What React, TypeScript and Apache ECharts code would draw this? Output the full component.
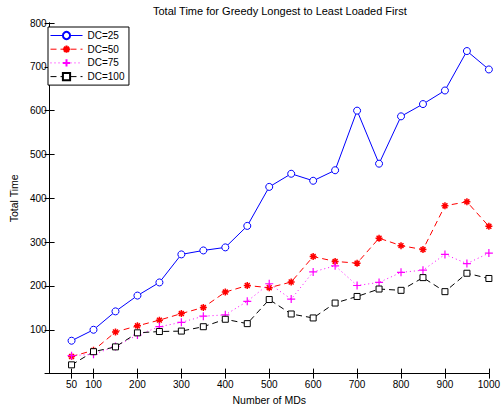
import React, { useEffect, useRef } from "react";
import * as echarts from "echarts";

const xValues = [50, 100, 150, 200, 250, 300, 350, 400, 450, 500, 550, 600, 650, 700, 750, 800, 850, 900, 950, 1000];
const dc25 = [75, 100, 142, 178, 208, 272, 281, 288, 337, 426, 456, 440, 464, 600, 479, 587, 615, 646, 736, 694];
const dc50 = [39, 53, 95, 109, 122, 137, 151, 186, 201, 196, 209, 267, 256, 252, 309, 292, 283, 383, 392, 336];
const dc75 = [41, 44, 62, 88, 107, 117, 131, 134, 165, 205, 170, 232, 246, 201, 208, 231, 236, 272, 251, 275];
const dc100 = [20, 50, 61, 93, 96, 97, 107, 124, 114, 169, 136, 127, 161, 176, 193, 190, 219, 187, 229, 217];
const xTickValues = [50, 100, 200, 300, 400, 500, 600, 700, 800, 900, 1000];

const FONT = "Liberation Sans";

export default function App() {
  const ref = useRef<HTMLDivElement>(null);
  useEffect(() => {
    if (!ref.current) return;
    const chart = echarts.init(ref.current, null, { renderer: "svg" });
    const pairs = (arr: number[]) => xValues.map((x, i) => [x, arr[i]]);
    const axisLine = { show: true, lineStyle: { color: "#000", width: 1 } };
    const tick = { show: true, inside: true, length: 5, lineStyle: { color: "#000" } };
    chart.setOption({
      animation: false,
      backgroundColor: "#fff",
      textStyle: { fontFamily: FONT },
      title: {
        text: "Total Time for Greedy Longest to Least Loaded First",
        left: 153,
        top: 5,
        padding: 0,
        textStyle: { fontSize: 11, fontWeight: "normal", color: "#000", fontFamily: FONT },
      },
      legend: {
        orient: "vertical",
        left: 48,
        top: 27,
        padding: [3.5, 4.5, 3.5, 2],
        itemWidth: 32,
        itemHeight: 9,
        itemGap: 3.7,
        borderColor: "#000",
        borderWidth: 1,
        backgroundColor: "#fff",
        lineStyle: { width: 1 },
        textStyle: { fontSize: 10, color: "#000", fontFamily: FONT },
        data: ["DC=25", "DC=50", "DC=75", "DC=100"],
      },
      grid: { left: 43, right: 9, top: 23, bottom: 31, containLabel: false },
      xAxis: [
        {
          type: "value",
          min: 0,
          max: 1000,
          name: "Number of MDs",
          nameLocation: "middle",
          nameGap: 19.5,
          nameTextStyle: { fontSize: 10.5, color: "#000", fontFamily: FONT },
          axisLine,
          axisTick: { ...tick, customValues: xTickValues },
          axisLabel: {
            customValues: xTickValues,
            fontSize: 10,
            color: "#000",
            margin: 5.5,
            fontFamily: FONT,
            formatter: (v: number) => String(v),
          },
          splitLine: { show: false },
        },
        {
          type: "value",
          position: "top",
          min: 0,
          max: 1000,
          axisLine,
          axisTick: { ...tick, customValues: xTickValues },
          axisLabel: { show: false },
          splitLine: { show: false },
        },
      ],
      yAxis: [
        {
          type: "value",
          min: 0,
          max: 800,
          interval: 100,
          name: "Total Time",
          nameLocation: "middle",
          nameGap: 26,
          nameTextStyle: { fontSize: 10.5, color: "#000", fontFamily: FONT },
          axisLine,
          axisTick: tick,
          axisLabel: {
            fontSize: 10,
            color: "#000",
            margin: 3,
            fontFamily: FONT,
            formatter: (v: number) => (v === 0 ? "" : String(v)),
          },
          splitLine: { show: false },
        },
        {
          type: "value",
          position: "right",
          min: 0,
          max: 800,
          interval: 100,
          axisLine,
          axisTick: tick,
          axisLabel: { show: false },
          splitLine: { show: false },
        },
      ],
      series: [
        {
          name: "DC=25",
          type: "line",
          data: pairs(dc25),
          symbol: "circle",
          symbolSize: 7,
          lineStyle: { color: "#0000ff", width: 1, type: "solid" },
          itemStyle: { color: "#ffffff", borderColor: "#0000ff", borderWidth: 1 },
        },
        {
          name: "DC=50",
          type: "line",
          data: pairs(dc50),
          symbol: "path://M5,0L5,10M0,5L10,5M1.5,1.5L8.5,8.5M8.5,1.5L1.5,8.5",
          symbolSize: 7,
          lineStyle: { color: "#ff0000", width: 1, type: [6, 4] },
          itemStyle: { color: "#ff0000", borderColor: "#ff0000", borderWidth: 1.5 },
        },
        {
          name: "DC=75",
          type: "line",
          data: pairs(dc75),
          symbol: "path://M5,0L5,10M0,5L10,5",
          symbolSize: 8,
          lineStyle: { color: "#ff00ff", width: 1, type: [1, 3] },
          itemStyle: { color: "#ff00ff", borderColor: "#ff00ff", borderWidth: 1.2 },
        },
        {
          name: "DC=100",
          type: "line",
          data: pairs(dc100),
          symbol: "rect",
          symbolSize: 6,
          lineStyle: { color: "#000000", width: 1, type: [6, 4] },
          itemStyle: { color: "#ffffff", borderColor: "#000000", borderWidth: 1 },
        },
      ],
    });
    return () => chart.dispose();
  }, []);
  return <div ref={ref} style={{ position: "fixed", left: 0, top: 0, width: 503, height: 410 }} />;
}
